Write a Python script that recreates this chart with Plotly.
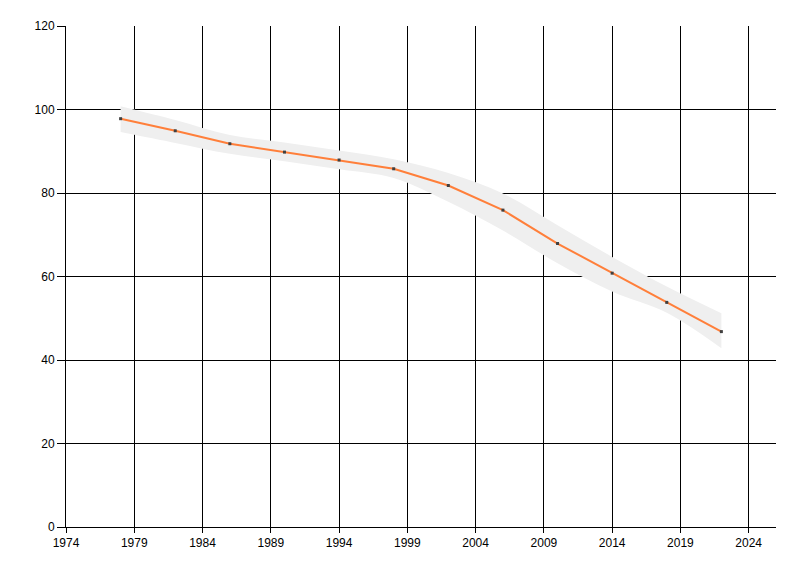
import plotly.graph_objects as go

# datos
years = [1978, 1982, 1986, 1990, 1994, 1998, 2002, 2006, 2010, 2014, 2018, 2022]
values = [97.8, 94.9, 91.8, 89.8, 87.9, 85.8, 81.8, 75.9, 67.9, 60.8, 53.8, 46.8]
upper = [100.8, 97.5, 93.9, 92.1, 90.2, 88.1, 84.8, 79.9, 72.3, 64.7, 57.6, 51.2]
lower = [94.6, 92.0, 89.4, 87.6, 85.7, 83.6, 77.9, 71.0, 63.2, 56.4, 51.3, 42.8]

fig = go.Figure()

# banda inferior (invisible) y superior con relleno
fig.add_trace(go.Scatter(
    x=years, y=lower, mode='lines',
    line=dict(color='rgba(0,0,0,0)', width=0, shape='spline'),
    hoverinfo='skip', showlegend=False
))
fig.add_trace(go.Scatter(
    x=years, y=upper, mode='lines',
    line=dict(color='rgba(0,0,0,0)', width=0, shape='spline'),
    fill='tonexty', fillcolor='#EFEFEF',
    hoverinfo='skip', showlegend=False
))

# serie principal
fig.add_trace(go.Scatter(
    x=years, y=values, mode='lines+markers',
    line=dict(color='#FF7F3A', width=2),
    marker=dict(symbol='square', size=3, color='#404040'),
    showlegend=False
))

# la pagina tiene 8px de margen en el body
fig.update_layout(
    width=800, height=576,
    margin=dict(l=58, r=32, t=18, b=57),
    plot_bgcolor='white', paper_bgcolor='white',
    font=dict(family='Liberation Sans, Arial, sans-serif', size=12, color='#000000'),
    showlegend=False
)

fig.update_xaxes(
    range=[1974, 2026], tick0=1974, dtick=5,
    showgrid=True, gridcolor='#000000', gridwidth=1,
    showline=True, linecolor='#000000', linewidth=1,
    ticks='outside', ticklen=5, tickcolor='#000000',
    zeroline=False
)
fig.update_yaxes(
    range=[0, 120], tick0=0, dtick=20,
    showgrid=True, gridcolor='#000000', gridwidth=1,
    showline=True, linecolor='#000000', linewidth=1,
    ticks='outside', ticklen=8, tickcolor='#000000',
    zeroline=False
)

fig.write_html("out.html")
